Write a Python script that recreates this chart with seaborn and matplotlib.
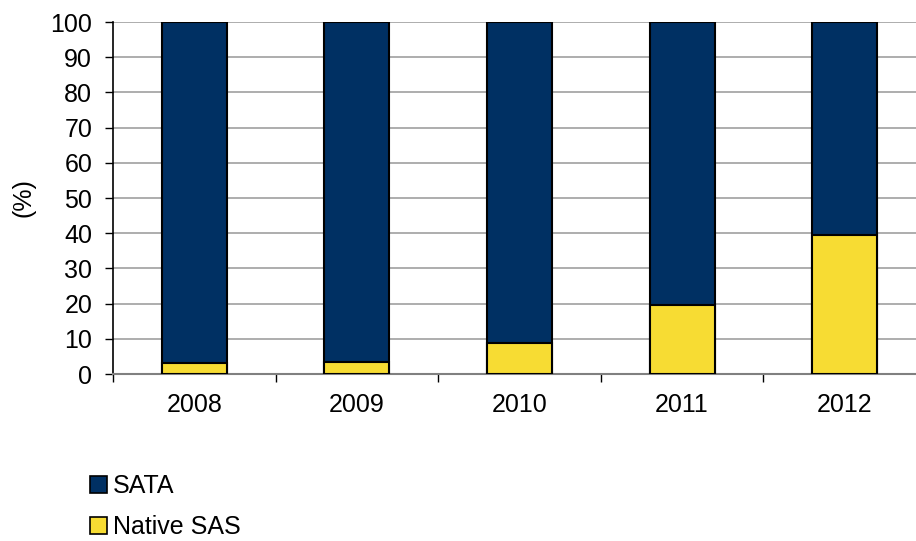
import matplotlib
matplotlib.use("Agg")
import matplotlib.pyplot as plt
from matplotlib.patches import Patch
from matplotlib.ticker import MultipleLocator, FixedLocator
import numpy as np
import pandas as pd
import seaborn as sns

years = ["2008", "2009", "2010", "2011", "2012"]
native_sas = [3.0, 3.5, 8.7, 19.6, 39.5]
sata = [97.0, 96.5, 91.3, 80.4, 60.5]

navy = "#003063"
yellow = "#F7DC33"

sns.set_theme(style="white")
plt.rcParams["font.family"] = ["Liberation Sans", "DejaVu Sans"]
plt.rcParams["text.color"] = "black"
plt.rcParams["axes.labelcolor"] = "black"
plt.rcParams["xtick.color"] = "black"
plt.rcParams["ytick.color"] = "black"

df = pd.DataFrame({"year": years, "native": native_sas, "sata": sata})
df["total"] = df["native"] + df["sata"]

fig = plt.figure(figsize=(9.16, 5.41), dpi=100)
ax = fig.add_axes([113 / 916, 167 / 541, 813 / 916, 352 / 541])

# stacked bars: full height in navy, Native SAS share in yellow on top of it
sns.barplot(data=df, x="year", y="total", color=navy, saturation=1,
            width=0.4, edgecolor="black", linewidth=1.5, ax=ax, zorder=3)
sns.barplot(data=df, x="year", y="native", color=yellow, saturation=1,
            width=0.4, edgecolor="black", linewidth=1.5, ax=ax, zorder=4)

ax.set_xlim(-0.5, 4.5)
ax.set_ylim(0, 100)
ax.yaxis.set_major_locator(MultipleLocator(10))
ax.grid(axis="y", color="#a0a0a0", linewidth=1.2, zorder=0)
ax.set_axisbelow(True)

ax.set_xlabel("")
ax.set_ylabel("(%)", fontsize=18, labelpad=11)

for s in ["top", "right"]:
    ax.spines[s].set_visible(False)
ax.spines["left"].set_color("black")
ax.spines["left"].set_linewidth(1.2)
ax.spines["bottom"].set_color("#808080")
ax.spines["bottom"].set_linewidth(1.5)

ax.tick_params(axis="y", which="major", direction="out", length=6, width=1,
               color="black", labelsize=18, pad=9, left=True)
ax.tick_params(axis="x", which="major", length=0, labelsize=18, pad=14)
ax.xaxis.set_minor_locator(FixedLocator(np.arange(-0.5, 5.0, 1.0)))
ax.tick_params(axis="x", which="minor", direction="out", length=6, width=1,
               color="black", bottom=True)

handles = [Patch(facecolor=navy, edgecolor="black", linewidth=1.2, label="SATA"),
           Patch(facecolor=yellow, edgecolor="black", linewidth=1.2, label="Native SAS")]
fig.legend(handles=handles, loc="upper left", bbox_to_anchor=(90 / 916, 1 - 474 / 541),
           frameon=False, fontsize=18, handlelength=0.68, handleheight=0.68,
           handletextpad=0.24, labelspacing=0.68, borderpad=0, borderaxespad=0)

fig.savefig("out.png", dpi=100)
